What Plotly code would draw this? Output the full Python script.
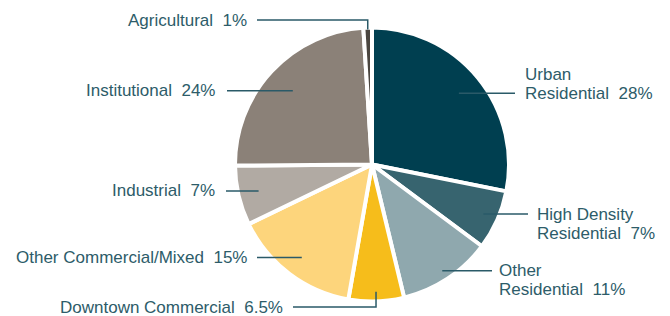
import math
import plotly.graph_objects as go

# ---- data ----
categories = ["Urban Residential", "High Density Residential", "Other Residential",
              "Downtown Commercial", "Other Commercial/Mixed", "Industrial",
              "Institutional", "Agricultural"]
label_lines = [["Urban", "Residential"], ["High Density", "Residential"], ["Other", "Residential"],
               ["Downtown Commercial"], ["Other Commercial/Mixed"], ["Industrial"],
               ["Institutional"], ["Agricultural"]]
shares = [28, 7, 11, 6.5, 15, 7, 24, 1]
colors = ["#003f50", "#37646f", "#8fa8ae", "#f6bd1b", "#fdd57c", "#b1aaa3", "#8b8178", "#4b4640"]

# ---- layout / style ----
W, H = 670, 316
CX, CY, R = 372, 164.5, 137
TEXT_COLOR = "#2d5c69"
LINE_COLOR = "#2a5a68"
FONT = "Liberation Sans"
FS = 17
LINE_GAP = 19

# per-slice label styling: radius fraction of anchor, side, line outer x, text x, which line aligns, elbow y
label_style = [
    dict(rf=0.82, side="right", lx=515, tx=523, align="last"),
    dict(rf=0.89, side="right", lx=528, tx=535, align="first"),
    dict(rf=0.93, side="right", lx=492, tx=497, align="first"),
    dict(rf=0.93, side="left", lx=293, tx=285, align="first", elbow=307),
    dict(rf=0.85, side="left", lx=257, tx=249, align="first"),
    dict(rf=0.85, side="left", lx=226, tx=217, align="first"),
    dict(rf=0.79, side="left", lx=227, tx=217, align="first"),
    dict(rf=0.985, side="left", lx=257, tx=249, align="first", elbow=20),
]


def px(x, y):
    return x / W, 1 - y / H


fig = go.Figure(go.Pie(
    labels=categories, values=shares, sort=False, direction="clockwise", rotation=0,
    marker=dict(colors=colors, line=dict(color="white", width=4)),
    textinfo="none", hoverinfo="label+percent", showlegend=False,
    domain=dict(x=[(CX - R) / W, (CX + R) / W], y=[1 - (CY + R) / H, 1 - (CY - R) / H]),
))

total = sum(shares)
cum = 0
shapes, annotations = [], []
for name_lines, v, st in zip(label_lines, shares, label_style):
    mid = (cum + v / 2) / total * 2 * math.pi
    cum += v
    ax = CX + st["rf"] * R * math.sin(mid)
    ay = CY - st["rf"] * R * math.cos(mid)
    pct = f"{v:g}%"
    lines = list(name_lines)
    lines[-1] = lines[-1] + "\u00a0\u00a0" + pct
    if "elbow" in st:
        ey = st["elbow"]
        x0, y0 = px(ax, ay)
        x1, y1 = px(ax, ey)
        x2, y2 = px(st["lx"], ey)
        shapes.append(dict(type="path", xref="paper", yref="paper",
                           path=f"M{x0},{y0} L{x1},{y1} L{x2},{y2}",
                           line=dict(color=LINE_COLOR, width=1.5)))
        ly = ey
    else:
        x0, y0 = px(ax, ay)
        x2, y2 = px(st["lx"], ay)
        shapes.append(dict(type="line", xref="paper", yref="paper", x0=x0, y0=y0, x1=x2, y1=y2,
                           line=dict(color=LINE_COLOR, width=1.5)))
        ly = ay
    n = len(lines)
    for i, t in enumerate(lines):
        if st["align"] == "first":
            ty = ly + i * LINE_GAP
        else:
            ty = ly - (n - 1 - i) * LINE_GAP
        xa, ya = px(st["tx"], ty)
        annotations.append(dict(x=xa, y=ya, xref="paper", yref="paper", text=t, showarrow=False,
                                xanchor="left" if st["side"] == "right" else "right",
                                yanchor="middle",
                                font=dict(family=FONT, size=FS, color=TEXT_COLOR)))

fig.update_layout(width=W, height=H, margin=dict(l=0, r=0, t=0, b=0),
                  paper_bgcolor="white", plot_bgcolor="white",
                  shapes=shapes, annotations=annotations)
fig.write_html("out.html", config={"displayModeBar": False},
               post_script="document.body.style.margin='0';")
